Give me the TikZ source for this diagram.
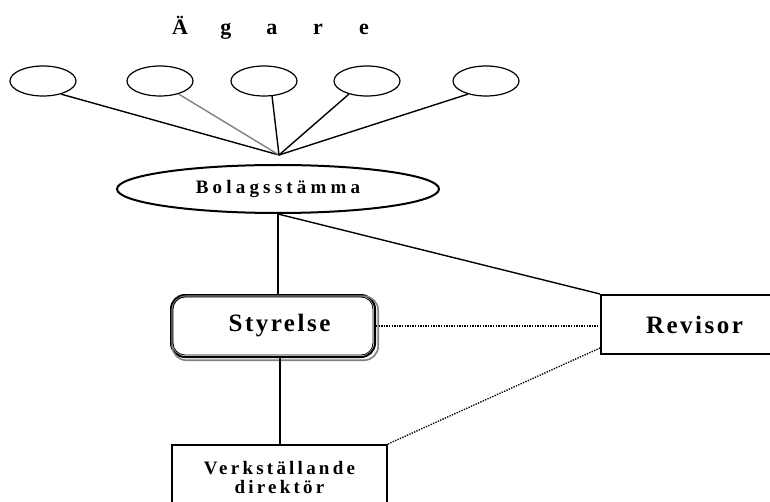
\documentclass[tikz,border=0pt]{standalone}
\usepackage{fontspec}
\setmainfont{Liberation Serif}
\usetikzlibrary{shapes.geometric,calc}
\newcommand\lsp[2]{{\addfontfeatures{LetterSpace=#1}#2}}
\begin{document}
\begin{tikzpicture}[x=1pt,y=-1pt,
  owner/.style={draw, ellipse, line width=1.2pt, minimum width=66pt, minimum height=30pt, inner sep=0pt},
  conn/.style={line width=1.4pt},
  thickconn/.style={line width=2pt},
  dotline/.style={line width=1.4pt, dash pattern=on 1.3pt off 1.3pt},
  lbl/.style={font=\bfseries\fontsize{25}{29}\selectfont},
  sml/.style={font=\bfseries\fontsize{19}{19.5}\selectfont},
]
\clip (0,0) rectangle (770,502);
\node[anchor=base, font=\bfseries\fontsize{22}{26}\selectfont, inner sep=0pt] (agare) at (272,35)
  {\makebox[46pt]{Ä}\makebox[46pt]{g}\makebox[46pt]{a}\makebox[46pt]{r}\makebox[46pt]{e}};

\node[owner] (o1) at (43,81) {};
\node[owner] (o2) at (160,81) {};
\node[owner] (o3) at (264,81) {};
\node[owner] (o4) at (367,81) {};
\node[owner] (o5) at (486,81) {};
\coordinate (hub) at (279,155);

\node[draw, ellipse, line width=2pt, minimum width=322pt, minimum height=48pt, inner sep=0pt, sml] (bol) at (278,189) {\lsp{22}{Bolagsstämma}};

\node[draw, rounded corners=14pt, line width=2pt, minimum width=204pt, minimum height=62pt, inner sep=0pt, lbl] (sty) at (273,326) {\hspace*{13pt}\lsp{10}{Styrelse}};
\draw[gray, line width=1.6pt, rounded corners=14pt] ($(sty.north west)+(2.2,2.2)$) rectangle ($(sty.south east)+(2.2,2.2)$);
\draw[line width=0.8pt, rounded corners=12pt] ($(sty.north west)+(3,3)$) rectangle ($(sty.south east)+(-3,-3)$);

\node[draw, line width=2pt, minimum width=184pt, minimum height=59pt, inner sep=0pt, lbl] (rev) at (693,324.5) {\hspace*{3pt}\lsp{10}{Revisor}};

\node[draw, line width=2pt, minimum width=215pt, anchor=north, inner xsep=0pt, inner ysep=16pt, align=center, sml] (vd) at (279.5,444) {\lsp{17}{Verkställande}\\\lsp{17}{direktör}};

\draw[conn] (o1.-36) -- (hub);
\draw[conn, gray] (o2.-35) -- (hub);
\draw[conn] (o3.-62) -- (hub);
\draw[conn] (o4.-144) -- (hub);
\draw[conn] (o5.-144) -- (hub);

\draw[thickconn] (bol.south) -- (bol.south |- sty.north);
\draw[conn] (bol.south) -- (rev.north west);
\draw[thickconn] (vd.north) -- (vd.north |- sty.south);
\draw[dotline] (sty.east) -- (sty.east -| rev.west);
\draw[dotline] (vd.north east) -- ($(rev.south west)+(0,-7)$);
\end{tikzpicture}
\end{document}
